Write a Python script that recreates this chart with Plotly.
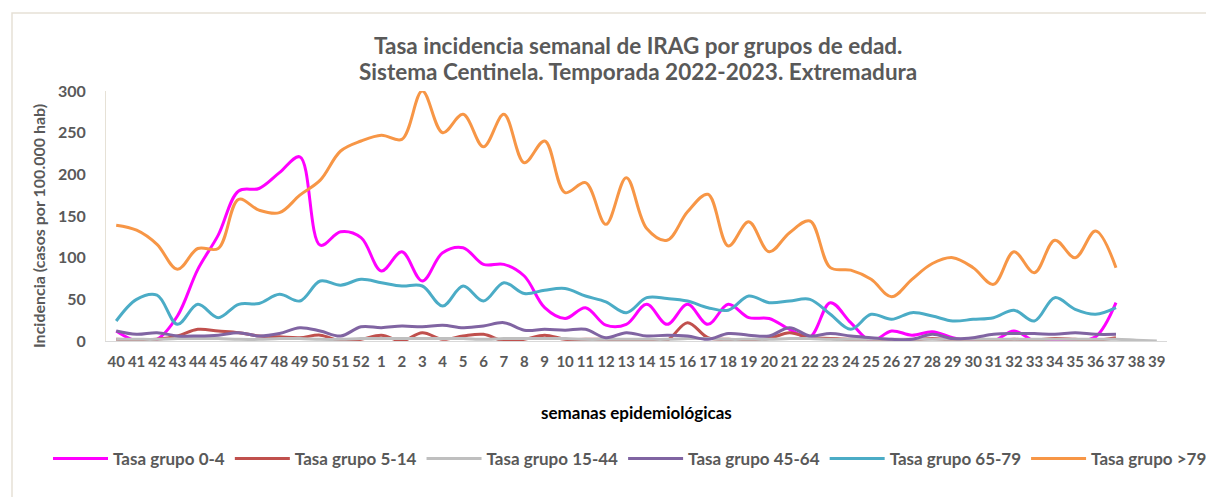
import plotly.graph_objects as go

weeks = [str(w) for w in list(range(40, 53)) + list(range(1, 40))]

g0_4 = [12, 0, 2, 30, 86, 127, 180, 183, 202, 221, 115, 131, 124, 84, 107, 72, 106, 112, 92, 92,
        78, 40, 27, 40, 19, 20, 44, 20, 44, 20, 44, 28, 27, 14, 5, 46, 22, 0, 12, 7,
        11, 4, 0, 0, 12, 0, 0, 0, 5, 46]
g5_14 = [2, 1, 2, 6, 14, 12, 10, 6, 5, 4, 7, 0, 2, 7, 0, 10, 2, 6, 8, 0,
         2, 7, 2, 2, 2, 0, 0, 1, 22, 4, 2, 1, 3, 10, 4, 3, 2, 2, 0, 1,
         3, 1, 2, 0, 2, 1, 3, 2, 1, 4]
g15_44 = [2, 2, 2, 3, 3, 3, 2, 2, 3, 3, 2, 2, 3, 3, 3, 3, 3, 3, 2, 3,
          3, 3, 3, 2, 2, 2, 2, 2, 3, 3, 2, 2, 2, 3, 3, 2, 2, 2, 2, 2,
          2, 2, 2, 2, 2, 2, 2, 2, 2, 2, 1, 0]
g45_64 = [12, 8, 10, 6, 6, 7, 10, 6, 9, 16, 12, 6, 17, 16, 18, 17, 19, 16, 18, 22,
          13, 14, 13, 14, 4, 10, 6, 7, 6, 2, 9, 7, 6, 16, 6, 9, 6, 4, 2, 2,
          8, 3, 4, 8, 9, 9, 8, 10, 8, 8]
g65_79 = [24, 50, 55, 20, 44, 28, 44, 45, 56, 48, 72, 67, 74, 70, 66, 66, 42, 66, 48, 70,
          57, 61, 63, 54, 47, 34, 52, 51, 48, 40, 37, 54, 46, 48, 50, 32, 14, 32, 26, 34,
          30, 24, 26, 28, 37, 24, 52, 38, 32, 40]
g79 = [139, 133, 116, 86, 111, 111, 170, 157, 154, 175, 193, 228, 240, 247, 242, 300, 250, 272, 233, 272,
       214, 240, 178, 190, 140, 196, 135, 121, 155, 176, 114, 143, 107, 130, 144, 88, 85, 74, 53, 74,
       93, 100, 88, 68, 107, 82, 121, 100, 132, 88]

series = [
    ("Tasa grupo 0-4", g0_4, "#FF00FF"),
    ("Tasa grupo 5-14", g5_14, "#C0504D"),
    ("Tasa grupo 15-44", g15_44, "#BFBFBF"),
    ("Tasa grupo 45-64", g45_64, "#8064A2"),
    ("Tasa grupo 65-79", g65_79, "#4BACC6"),
    ("Tasa grupo >79", g79, "#F79646"),
]

FONT = "Lato"
GREY = "#595959"

fig = go.Figure()
for name, vals, col in series:
    fig.add_trace(go.Scatter(
        x=weeks[:len(vals)], y=vals, name=name, mode="lines",
        line=dict(color=col, width=3, shape="spline", smoothing=1.0),
    ))

L, R, T, B = 98, 55, 83, 164
W, H = 1214, 497
pw, ph = W - L - R, H - T - B

def px(x):
    return (x - L) / pw

def py(y):
    return (H - B - y) / ph

fig.update_layout(
    width=W, height=H,
    margin=dict(l=L, r=R, t=T, b=B),
    paper_bgcolor="white", plot_bgcolor="white",
    font=dict(family=FONT, color=GREY),
    showlegend=True,
    legend=dict(orientation="h", x=px(40), xanchor="left", y=py(451), yanchor="middle",
                font=dict(family=FONT, size=17, color=GREY, weight="bold"),
                itemwidth=55, tracegroupgap=0, bgcolor="rgba(0,0,0,0)"),
    xaxis=dict(type="category", range=[-0.5, 51.5], showgrid=False, zeroline=False,
               showline=True, linecolor="#D9D9D9", linewidth=1, ticks="",
               tickfont=dict(family=FONT, size=15, color=GREY, weight="bold"),
               ticklabelstandoff=7, tickangle=0),
    yaxis=dict(range=[0, 300], dtick=50, showgrid=False, zeroline=False,
               showline=True, linecolor="#E6E1D6", linewidth=1, ticks="",
               tickfont=dict(family=FONT, size=16, color=GREY, weight="bold"),
               ticklabelstandoff=16),
    annotations=[
        dict(text="Tasa incidencia semanal de IRAG por grupos de edad.", x=px(630), y=py(37),
             xref="paper", yref="paper", showarrow=False, xanchor="center", yanchor="middle",
             font=dict(family=FONT, size=22.5, color=GREY, weight="bold")),
        dict(text="Sistema Centinela. Temporada 2022-2023. Extremadura", x=px(630), y=py(64),
             xref="paper", yref="paper", showarrow=False, xanchor="center", yanchor="middle",
             font=dict(family=FONT, size=22.5, color=GREY, weight="bold")),
        dict(text="Incidencia (casos por 100.000 hab)", x=px(30), y=py(218), textangle=-90,
             xref="paper", yref="paper", showarrow=False, xanchor="center", yanchor="middle",
             font=dict(family=FONT, size=16, color=GREY, weight="bold")),
        dict(text="semanas epidemiológicas", x=px(628), y=py(404),
             xref="paper", yref="paper", showarrow=False, xanchor="center", yanchor="middle",
             font=dict(family=FONT, size=17, color="#000000", weight="bold")),
    ],
    shapes=[
        dict(type="rect", xref="paper", yref="paper", x0=px(4), x1=px(1207), y0=py(493), y1=py(5),
             line=dict(color="#E6E1D6", width=1.5), fillcolor="rgba(0,0,0,0)", layer="below"),
    ],
)

fig.write_html("out.html")
